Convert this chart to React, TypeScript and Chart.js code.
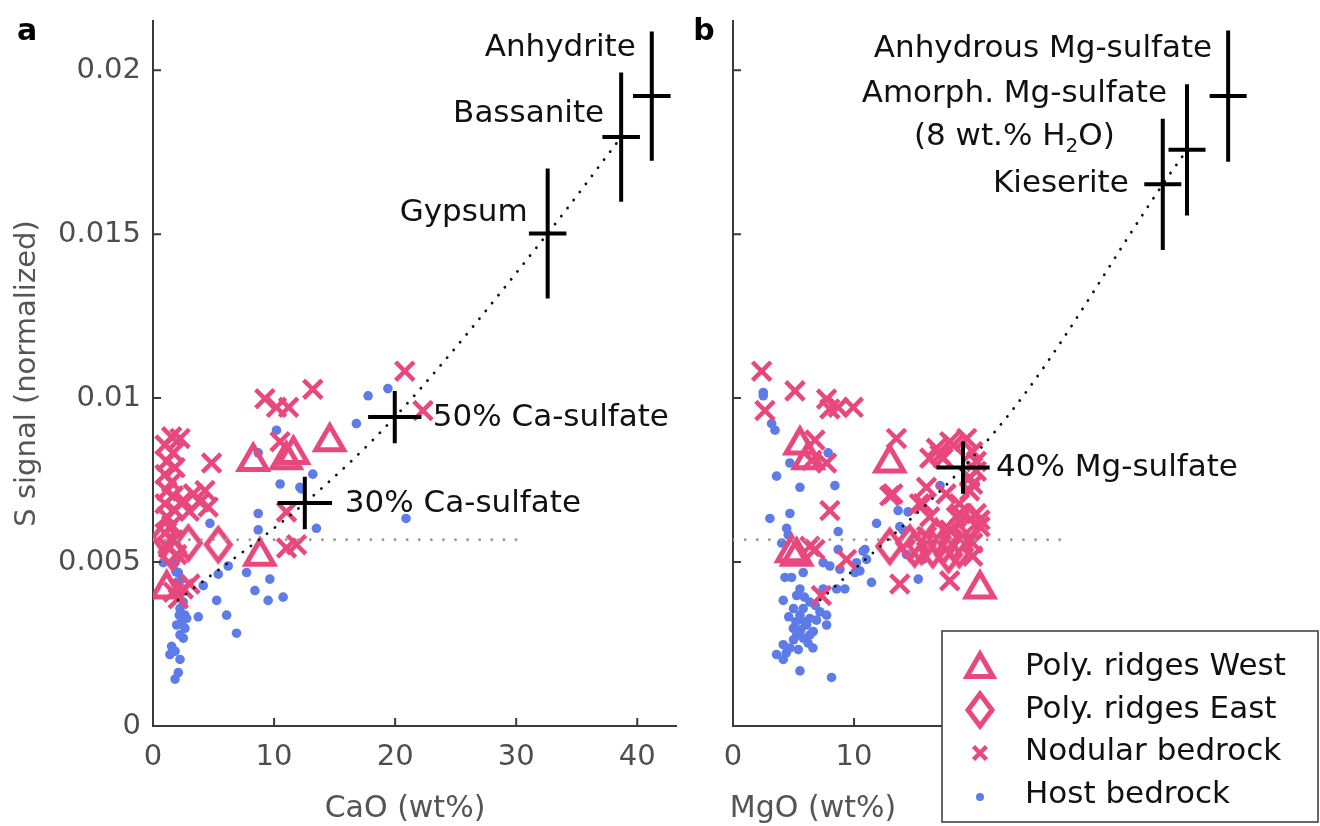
import React, { useEffect, useRef } from 'react';
import { Chart, registerables } from 'chart.js';

Chart.register(...registerables);

// ---------- colours & fonts ----------
const PINK = '#e8487d';
const BLUE = '#5e7ce8';
const AXIS = '#3a3a3a';
const TICK_TEXT = '#4d4d4d';
const FONT = '"DejaVu Sans", "Liberation Sans", sans-serif';

// ---------- axes ----------
const X_MIN = 0;
const X_MAX = 43.2;
const Y_MIN = 0;
const Y_MAX = 0.0215;
const X_TICKS = [0, 10, 20, 30, 40];
const Y_TICKS = [0, 0.005, 0.01, 0.015, 0.02];
const Y_TICK_LABELS = ['0', '0.005', '0.01', '0.015', '0.02'];
const Y_TITLE = 'S signal (normalized)';
const CA_X_TITLE = 'CaO (wt%)';
const MG_X_TITLE = 'MgO (wt%)';
const SERIES_NAMES = ['Poly. ridges West', 'Poly. ridges East', 'Nodular bedrock', 'Host bedrock'];

// horizontal dotted threshold
const S_THRESHOLD = 0.00568;
const CA_THRESHOLD_X = [0, 30];
const MG_THRESHOLD_X = [0, 27];

// ---------- panel a (CaO) ----------
const caWest = [[1.13, 0.00418], [8.28, 0.00807], [11.0, 0.00812], [11.6, 0.00828], [14.6, 0.00867], [8.83, 0.00518]];
const caEast = [[1.0, 0.00575], [1.6, 0.0053], [2.92, 0.00558], [5.39, 0.00553]];
const caNodular = [
  [1.54, 0.00882], [2.23, 0.00877], [0.99, 0.00857], [1.68, 0.00833], [1.13, 0.00807], [1.82, 0.00788],
  [0.99, 0.00767], [1.54, 0.00743], [1.13, 0.00717], [1.68, 0.00702], [0.99, 0.00678], [1.82, 0.00657],
  [1.13, 0.00638], [1.54, 0.00612], [0.99, 0.00588], [1.68, 0.00568], [1.27, 0.00543], [1.96, 0.00523],
  [2.5, 0.00688], [3.33, 0.00708], [4.29, 0.00718], [3.88, 0.00683], [4.56, 0.00668], [3.0, 0.00655],
  [1.68, 0.00408], [2.5, 0.00418], [3.05, 0.00433], [2.09, 0.00388],
  [4.84, 0.00802], [9.24, 0.00998], [10.2, 0.00972], [11.2, 0.00972], [13.2, 0.01027], [10.5, 0.00867],
  [11.03, 0.00653], [11.86, 0.00553], [11.03, 0.00543], [20.8, 0.01082], [22.3, 0.00962],
];
const caHost = [
  [0.85, 0.00498], [1.82, 0.00498], [2.09, 0.00468], [2.37, 0.00448], [1.96, 0.00438], [2.5, 0.00378],
  [2.23, 0.00358], [2.64, 0.00338], [2.37, 0.00318], [1.96, 0.00308], [2.64, 0.00298], [2.23, 0.00278],
  [2.5, 0.00268], [1.54, 0.00243], [1.82, 0.00228], [1.4, 0.00218], [2.23, 0.00203], [2.09, 0.00163],
  [1.82, 0.00143], [2.78, 0.00328], [2.17, 0.00338], [2.0, 0.004], [2.4, 0.0041], [1.9, 0.0047],
  [3.74, 0.00333], [4.7, 0.00618], [4.15, 0.00428], [5.39, 0.00463], [6.21, 0.00488], [5.26, 0.00383],
  [6.08, 0.00338], [6.9, 0.00283], [7.73, 0.00468], [8.69, 0.00648], [8.69, 0.00598], [8.69, 0.00833],
  [10.2, 0.00902], [10.5, 0.00738], [9.65, 0.00448], [8.42, 0.00413], [9.51, 0.00383], [10.75, 0.00393],
  [12.13, 0.00728], [13.2, 0.00768], [13.5, 0.00603], [16.8, 0.00922], [17.77, 0.01007], [19.4, 0.01029],
  [20.9, 0.00633], [12.27, 0.00723],
];
const caRefNames = ['Anhydrite', 'Bassanite', 'Gypsum', '50% Ca-sulfate', '30% Ca-sulfate'];
const caRefX = [41.2, 38.67, 32.6, 19.97, 12.54];
const caRefY = [0.01921, 0.01796, 0.01502, 0.00942, 0.0068];
const caRefXErr = [1.55, 1.55, 1.55, 2.2, 2.25];
const caRefYErr = [0.00197, 0.00197, 0.00198, 0.0008, 0.0008];
const caMixX = [2.06, 12.54, 19.97, 32.6, 38.67];
const caMixY = [0.00384, 0.0068, 0.00942, 0.01502, 0.01796];

// ---------- panel b (MgO) ----------
const mgWest = [[5.53, 0.00857], [6.21, 0.00812], [5.26, 0.00518], [4.84, 0.00528], [12.95, 0.00802], [20.4, 0.00418]];
const mgEast = [
  [12.95, 0.00548], [14.6, 0.00558], [15.57, 0.00548], [16.5, 0.00538], [17.35, 0.00548], [18.2, 0.00558],
  [18.7, 0.00538], [16.8, 0.00578], [17.8, 0.00523], [19.28, 0.00598], [15.0, 0.0054], [19.6, 0.0062],
];
const mgNodular = [
  [2.37, 0.01082], [2.64, 0.00962], [5.12, 0.01022], [7.73, 0.00997], [8.0, 0.00967], [8.69, 0.00972],
  [9.93, 0.00972], [6.77, 0.00872], [6.5, 0.0081], [7.73, 0.00802], [8.0, 0.00657], [6.35, 0.00548],
  [9.38, 0.00508], [7.3, 0.00398], [13.5, 0.00877], [12.95, 0.00702], [13.78, 0.00433], [17.9, 0.00443],
  [6.77, 0.00538], [16.8, 0.00847], [17.9, 0.00867], [17.35, 0.00817], [19.8, 0.00837], [20.1, 0.00807],
  [19.55, 0.00758], [19.55, 0.00717], [15.98, 0.00728], [13.2, 0.00708], [15.7, 0.00678], [18.7, 0.00678],
  [20.1, 0.00648], [18.45, 0.00638], [20.4, 0.00608], [19.8, 0.00558], [15.98, 0.00578], [19.0, 0.00578],
  [17.1, 0.00827], [18.2, 0.00857], [19.3, 0.00877], [20.1, 0.00777], [19.8, 0.00737], [16.25, 0.00817],
  [17.6, 0.00708], [18.7, 0.00648], [20.4, 0.00628], [16.25, 0.00638], [15.4, 0.00678], [17.9, 0.00598],
  [19.8, 0.00518],
];
const mgHost = [
  [2.5, 0.01017], [2.5, 0.01007], [3.19, 0.00922], [3.47, 0.00902], [7.86, 0.00833], [4.7, 0.00802],
  [3.6, 0.00762], [5.53, 0.00728], [8.42, 0.00733], [3.05, 0.00633], [4.7, 0.00648], [4.43, 0.00603],
  [4.56, 0.00583], [8.69, 0.00593], [4.02, 0.00558], [11.86, 0.00618], [8.69, 0.00538], [10.75, 0.00533],
  [7.45, 0.00498], [8.0, 0.00488], [8.83, 0.00478], [10.2, 0.00498], [11.03, 0.00508], [4.29, 0.00453],
  [4.84, 0.00453], [5.8, 0.00468], [10.07, 0.00468], [10.48, 0.00473], [8.56, 0.00418], [9.24, 0.00418],
  [11.44, 0.00438], [5.53, 0.00418], [4.15, 0.00383], [5.26, 0.00398], [6.35, 0.00378], [5.8, 0.00358],
  [5.53, 0.00338], [6.35, 0.00328], [7.18, 0.00348], [7.73, 0.00338], [7.73, 0.00308], [6.08, 0.00308],
  [4.98, 0.00298], [6.63, 0.00288], [5.26, 0.00278], [5.8, 0.00268], [6.35, 0.00278], [4.15, 0.00248],
  [4.7, 0.00238], [3.6, 0.00218], [4.15, 0.00203], [5.39, 0.00233], [5.53, 0.00168], [8.14, 0.00148],
  [7.45, 0.00418], [17.1, 0.00733], [13.64, 0.00657], [14.46, 0.00653], [13.78, 0.00608], [14.05, 0.00598],
  [10.9, 0.00538], [14.33, 0.00523], [15.7, 0.00508], [15.3, 0.00448],
  [5.0, 0.00358], [5.9, 0.00318], [6.9, 0.00323], [5.2, 0.00318], [6.2, 0.00253], [5.6, 0.00293],
  [4.6, 0.00333], [6.8, 0.00368], [5.0, 0.00263], [6.6, 0.00238], [4.4, 0.00223], [5.9, 0.00393],
];
const mgRefNames = ['Anhydrous Mg-sulfate', 'Amorph. Mg-sulfate', 'Kieserite', '40% Mg-sulfate'];
const mgRefSecondLine = ['', '(8 wt.% H|2|O)', '', ''];
const mgRefX = [40.9, 37.5, 35.5, 19.0];
const mgRefY = [0.01921, 0.01757, 0.01652, 0.00788];
const mgRefXErr = [1.53, 1.53, 1.53, 2.2];
const mgRefYErr = [0.002, 0.002, 0.002, 0.0008];
const mgMixX = [7.2, 19.0, 24.4, 35.5, 37.5];
const mgMixY = [0.00384, 0.00788, 0.01028, 0.01652, 0.01757];

// ---------- label placement (pixels, relative to reference cross centre) ----------
const caLabelPos = [
  { align: 'right', dx: -16, dy: -40 },
  { align: 'right', dx: -17, dy: -15 },
  { align: 'right', dx: -20, dy: -12 },
  { align: 'left', dx: 38, dy: 9 },
  { align: 'left', dx: 40, dy: 9 },
];
const mgLabelPos = [
  { align: 'right', dx: -16, dy: -39 },
  { align: 'right', dx: -20, dy: -48, dy2: -5 },
  { align: 'right', dx: -34, dy: 8 },
  { align: 'left', dx: 33, dy: 8 },
];

// ---------- helpers ----------
const toPts = (arr: number[][]) => arr.map(([x, y]) => ({ x, y }));
const zip = (xs: number[], ys: number[]) => xs.map((x, i) => ({ x, y: ys[i] }));

function crossSegments(xs: number[], ys: number[], ex: number[], ey: number[]) {
  const out: any[] = [];
  xs.forEach((x, i) => {
    out.push({ x: x - ex[i], y: ys[i] }, { x: x + ex[i], y: ys[i] }, { x: null, y: null });
    out.push({ x, y: ys[i] - ey[i] }, { x, y: ys[i] + ey[i] }, { x: null, y: null });
  });
  return out;
}

function makeDiamond(): HTMLCanvasElement {
  const c = document.createElement('canvas');
  c.width = 32;
  c.height = 44;
  const g = c.getContext('2d')!;
  g.strokeStyle = PINK;
  g.lineWidth = 5;
  g.miterLimit = 10;
  g.beginPath();
  g.moveTo(16, 6);
  g.lineTo(28, 22);
  g.lineTo(16, 38);
  g.lineTo(4, 22);
  g.closePath();
  g.stroke();
  return c;
}

function pointSets(west: number[][], east: number[][], nod: number[][], host: number[][], diamond: HTMLCanvasElement) {
  return [
    {
      label: SERIES_NAMES[0], data: toPts(west), pointStyle: 'triangle', pointRadius: 16,
      borderWidth: 5, borderColor: PINK, backgroundColor: 'rgba(0,0,0,0)',
    },
    {
      label: SERIES_NAMES[1], data: toPts(east), pointStyle: diamond, pointRadius: 16,
      borderWidth: 0, borderColor: PINK, backgroundColor: 'rgba(0,0,0,0)',
    },
    {
      label: SERIES_NAMES[2], data: toPts(nod), pointStyle: 'crossRot', pointRadius: 13,
      borderWidth: 4.5, borderColor: PINK, backgroundColor: PINK,
    },
    {
      label: SERIES_NAMES[3], data: toPts(host), pointStyle: 'circle', pointRadius: 4.8,
      borderWidth: 0, borderColor: BLUE, backgroundColor: BLUE,
    },
  ];
}

function lineSets(refX: number[], refY: number[], ex: number[], ey: number[], mixX: number[], mixY: number[], thrX: number[]) {
  return [
    {
      type: 'line', label: 'reference', data: crossSegments(refX, refY, ex, ey), borderColor: '#000',
      borderWidth: 4, pointRadius: 0, spanGaps: false, fill: false, clip: false,
    },
    {
      type: 'line', label: 'mixing', data: zip(mixX, mixY), borderColor: '#111', borderWidth: 2.8,
      borderDash: [0.1, 10], borderCapStyle: 'round', pointRadius: 0, cubicInterpolationMode: 'monotone', fill: false,
    },
    {
      type: 'line', label: 'threshold', data: thrX.map((x) => ({ x, y: S_THRESHOLD })), borderColor: '#9a9a9a',
      borderWidth: 2.8, borderDash: [0.1, 12], borderCapStyle: 'round', pointRadius: 0, fill: false,
    },
  ];
}

const innerTicks = {
  id: 'innerTicks',
  afterDraw(chart: any) {
    const { ctx, chartArea, scales } = chart;
    ctx.save();
    ctx.strokeStyle = AXIS;
    ctx.lineWidth = 2;
    ctx.beginPath();
    X_TICKS.forEach((v) => {
      if (v === X_MIN) return;
      const p = scales.x.getPixelForValue(v);
      ctx.moveTo(p, chartArea.bottom);
      ctx.lineTo(p, chartArea.bottom - 8);
    });
    Y_TICKS.forEach((v) => {
      if (v === Y_MIN) return;
      const p = scales.y.getPixelForValue(v);
      ctx.moveTo(chartArea.left, p);
      ctx.lineTo(chartArea.left + 8, p);
    });
    ctx.stroke();
    ctx.restore();
  },
};

function textPlugin(
  id: string, letter: string, letterX: number, xTitle: string, xTitleX: number,
  names: string[], second: string[] | null, rx: number[], ry: number[], pos: any[],
) {
  return {
    id,
    afterDraw(chart: any) {
      const { ctx, chartArea, scales } = chart;
      ctx.save();
      // panel letter
      ctx.fillStyle = '#000';
      ctx.font = `bold 30px ${FONT}`;
      ctx.textAlign = 'center';
      ctx.textBaseline = 'alphabetic';
      ctx.fillText(letter, chartArea.left + letterX, 40);
      // x axis title
      ctx.fillStyle = '#555';
      ctx.font = `30px ${FONT}`;
      ctx.fillText(xTitle, chartArea.left + xTitleX, 817);
      // reference labels
      ctx.fillStyle = '#111';
      names.forEach((name, i) => {
        const p = pos[i];
        const cx = scales.x.getPixelForValue(rx[i]);
        const cy = scales.y.getPixelForValue(ry[i]);
        ctx.font = `31px ${FONT}`;
        ctx.textAlign = p.align;
        ctx.fillText(name, cx + p.dx, cy + p.dy);
        if (second && second[i]) {
          const w1 = ctx.measureText(name).width;
          const centre = p.align === 'right' ? cx + p.dx - w1 / 2 : cx + p.dx + w1 / 2;
          const [pre, sub, post] = second[i].split('|');
          ctx.textAlign = 'left';
          const wPre = ctx.measureText(pre).width;
          const wPost = ctx.measureText(post).width;
          ctx.font = `20px ${FONT}`;
          const wSub = ctx.measureText(sub).width;
          let x0 = centre - (wPre + wSub + wPost) / 2;
          const by = cy + p.dy2;
          ctx.font = `31px ${FONT}`;
          ctx.fillText(pre, x0, by);
          x0 += wPre;
          ctx.font = `20px ${FONT}`;
          ctx.fillText(sub, x0, by + 7);
          x0 += wSub;
          ctx.font = `31px ${FONT}`;
          ctx.fillText(post, x0, by);
        }
      });
      ctx.restore();
    },
  };
}

function legendPlugin(diamond: HTMLCanvasElement) {
  return {
    id: 'boxLegend',
    afterDraw(chart: any) {
      const { ctx } = chart;
      const left = 262, top = 631, w = 376, h = 191;
      ctx.save();
      ctx.fillStyle = '#fff';
      ctx.fillRect(left, top, w, h);
      ctx.strokeStyle = '#444';
      ctx.lineWidth = 1.6;
      ctx.strokeRect(left, top, w, h);
      const mx = left + 38;
      const tx = left + 83;
      const rows = [675, 718, 760, 803];
      const marks = [666, 710, 753, 797];
      // triangle
      ctx.strokeStyle = PINK;
      ctx.lineWidth = 5;
      ctx.beginPath();
      const r = 15;
      for (let k = 0; k < 3; k++) {
        const a = (k * 2 * Math.PI) / 3;
        const px = mx + Math.sin(a) * r;
        const py = marks[0] + 3 - Math.cos(a) * r;
        if (k === 0) ctx.moveTo(px, py); else ctx.lineTo(px, py);
      }
      ctx.closePath();
      ctx.stroke();
      // diamond
      ctx.drawImage(diamond, mx - diamond.width / 2, marks[1] - diamond.height / 2);
      // cross
      ctx.lineWidth = 4.5;
      ctx.beginPath();
      const c = 6.5;
      ctx.moveTo(mx - c, marks[2] - c);
      ctx.lineTo(mx + c, marks[2] + c);
      ctx.moveTo(mx + c, marks[2] - c);
      ctx.lineTo(mx - c, marks[2] + c);
      ctx.stroke();
      // dot
      ctx.fillStyle = BLUE;
      ctx.beginPath();
      ctx.arc(mx, marks[3], 4, 0, Math.PI * 2);
      ctx.fill();
      // texts
      ctx.fillStyle = '#111';
      ctx.font = `31px ${FONT}`;
      ctx.textAlign = 'left';
      ctx.textBaseline = 'alphabetic';
      SERIES_NAMES.forEach((n, i) => ctx.fillText(n, tx, rows[i]));
      ctx.restore();
    },
  };
}

function makeOptions(showYLabels: boolean, yWidth: number, padRight: number) {
  return {
    responsive: false,
    animation: false,
    events: [],
    layout: { padding: { left: 0, top: 8, right: padRight, bottom: 0 } },
    plugins: { legend: { display: false }, tooltip: { enabled: false } },
    scales: {
      x: {
        type: 'linear', min: X_MIN, max: X_MAX,
        afterBuildTicks: (s: any) => { s.ticks = X_TICKS.map((value) => ({ value })); },
        afterFit: (s: any) => { s.height = 100; s.paddingLeft = 0; s.paddingRight = 0; },
        grid: { display: false, drawTicks: false },
        border: { display: true, color: AXIS, width: 2 },
        ticks: { color: TICK_TEXT, font: { family: FONT, size: 29 }, padding: 14, maxRotation: 0, callback: (v: number) => String(v) },
      },
      y: {
        type: 'linear', min: Y_MIN, max: Y_MAX,
        afterBuildTicks: (s: any) => { s.ticks = Y_TICKS.map((value) => ({ value })); },
        afterFit: (s: any) => { s.width = yWidth; s.paddingTop = 0; s.paddingBottom = 0; },
        grid: { display: false, drawTicks: false },
        border: { display: true, color: AXIS, width: 2 },
        title: {
          display: showYLabels, text: Y_TITLE, color: '#555',
          font: { family: FONT, size: 29 }, padding: { top: 10, bottom: 0 },
        },
        ticks: {
          display: showYLabels, color: TICK_TEXT, font: { family: FONT, size: 29 }, padding: 12,
          callback: (v: number) => {
            const i = Y_TICKS.indexOf(v);
            return i >= 0 ? Y_TICK_LABELS[i] : String(v);
          },
        },
      },
    },
  };
}

export default function App() {
  const refA = useRef<HTMLCanvasElement>(null);
  const refB = useRef<HTMLCanvasElement>(null);

  useEffect(() => {
    const diamond = makeDiamond();
    const chartA = new Chart(refA.current as HTMLCanvasElement, {
      type: 'scatter',
      data: {
        datasets: [
          ...lineSets(caRefX, caRefY, caRefXErr, caRefYErr, caMixX, caMixY, CA_THRESHOLD_X),
          ...pointSets(caWest, caEast, caNodular, caHost, diamond),
        ] as any,
      },
      options: makeOptions(true, 153, 24) as any,
      plugins: [innerTicks, textPlugin('textA', 'a', -126, CA_X_TITLE, 252, caRefNames, null, caRefX, caRefY, caLabelPos)],
    });
    const chartB = new Chart(refB.current as HTMLCanvasElement, {
      type: 'scatter',
      data: {
        datasets: [
          ...lineSets(mgRefX, mgRefY, mgRefXErr, mgRefYErr, mgMixX, mgMixY, MG_THRESHOLD_X),
          ...pointSets(mgWest, mgEast, mgNodular, mgHost, diamond),
        ] as any,
      },
      options: makeOptions(false, 53, 64) as any,
      plugins: [
        innerTicks,
        textPlugin('textB', 'b', -29, MG_X_TITLE, 80, mgRefNames, mgRefSecondLine, mgRefX, mgRefY, mgLabelPos),
        legendPlugin(diamond),
      ],
    });
    return () => {
      chartA.destroy();
      chartB.destroy();
    };
  }, []);

  return (
    <div style={{ position: 'absolute', left: 0, top: 0, width: 1320, height: 826, background: '#fff', overflow: 'hidden' }}>
      <canvas ref={refA} width={700} height={826} style={{ position: 'absolute', left: 0, top: 0 }} />
      <canvas ref={refB} width={640} height={826} style={{ position: 'absolute', left: 680, top: 0 }} />
    </div>
  );
}
